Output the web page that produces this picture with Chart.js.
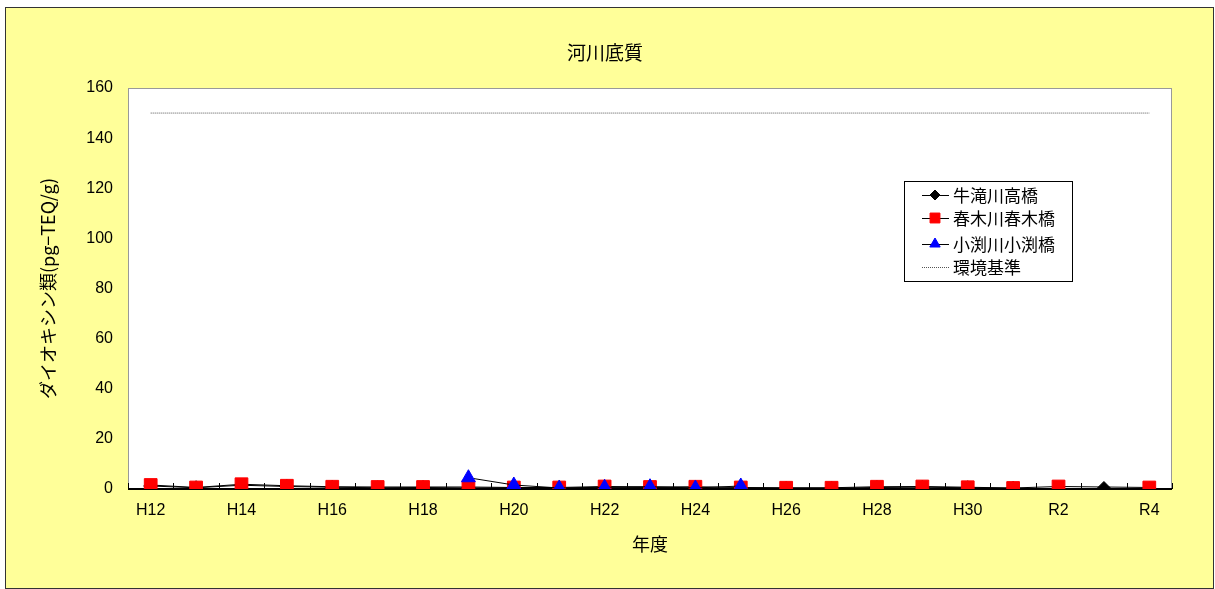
<!DOCTYPE html>
<html>
<head>
<meta charset="utf-8">
<script src="https://cdn.jsdelivr.net/npm/chart.js@4.4.1/dist/chart.umd.min.js"></script>
<style>
  body { margin: 0; background: #fff; }
  #wrap {
    position: absolute; left: 5px; top: 7px;
    width: 1209px; height: 582px;
    box-sizing: border-box; border: 1px solid #333;
    background: #ffff99;
  }
  #chart { display: block; }
</style>
</head>
<body>
<div id="wrap"><canvas id="chart" width="1207" height="580"></canvas></div>
<script>
// data (pg-TEQ/g)
const years = ['H12', 'H13', 'H14', 'H15', 'H16', 'H17', 'H18', 'H19', 'H20', 'H21',
    'H22', 'H23', 'H24', 'H25', 'H26', 'H27', 'H28', 'H29', 'H30', 'R1', 'R2', 'R3', 'R4'];
const ushitaki = [1.2, 0.5, 1.5, 1.0, 0.7, 0.5, 0.6, 0.4, 0.5, 0.3, 0.5, 0.6,
    0.4, 0.4, 0.3, 0.3, 0.6, 0.7, 0.5, 0.3, 0.1, 0.2, 0.1];
const harukigi = [1.6, 0.6, 1.9, 1.3, 0.9, 0.8, 0.8, 0.8, 0.6, 0.6, 1.0, 0.8,
    0.9, 0.6, 0.5, 0.5, 0.9, 1.0, 0.7, 0.4, 1.0, null, 0.6];
const kobuchi = [null, null, null, null, null, null, null, 4.5, 1.6, 0.4, 0.7, 0.9,
    0.4, 1.2, null, null, null, null, null, null, null, null, null];
const standard = years.map(() => 150);
const yTicks = [0, 20, 40, 60, 80, 100, 120, 140, 160];
const chartTitle = '河川底質';

const FONT = "'Liberation Sans', 'Noto Sans CJK JP', sans-serif";
const JFONT = "'Noto Sans CJK JP', 'Liberation Sans', sans-serif";

const legendItems = [
    { label: '牛滝川高橋', style: 'rectRot', color: '#000', r: 5 },
    { label: '春木川春木橋', style: 'rect', color: '#ff0000', r: 7 },
    { label: '小渕川小渕橋', style: 'triangle', color: '#0000ff', r: 6 },
    { label: '環境基準', style: null, color: '#555' }
];

// white plot area, frame, inward tick marks, dark bottom axis
const framePlugin = {
    id: 'frame',
    beforeDraw(chart) {
        const { ctx, chartArea: a } = chart;
        ctx.save();
        ctx.fillStyle = '#fff';
        ctx.fillRect(a.left, a.top, a.right - a.left, a.bottom - a.top);
        // title, centred over the whole panel
        ctx.fillStyle = '#000';
        ctx.font = '19px ' + JFONT;
        ctx.textAlign = 'center';
        ctx.textBaseline = 'middle';
        ctx.fillText(chartTitle, 599, 45);
        ctx.restore();
    },
    beforeDatasetsDraw(chart) {
        const { ctx, chartArea: a, scales } = chart;
        ctx.save();
        ctx.strokeStyle = '#999';
        ctx.lineWidth = 1;
        ctx.strokeRect(a.left + 0.5, a.top + 0.5, a.right - a.left - 1, a.bottom - a.top);
        const x = scales.x;
        const half = (x.getPixelForValue(1) - x.getPixelForValue(0)) / 2;
        ctx.strokeStyle = '#000';
        ctx.beginPath();
        for (let i = 0; i <= years.length; i++) {
            const px = Math.round(x.getPixelForValue(i) - half) + 0.5;
            ctx.moveTo(px, a.bottom);
            ctx.lineTo(px, a.bottom - 6);
        }
        ctx.stroke();
        ctx.lineWidth = 2;
        ctx.beginPath();
        ctx.moveTo(a.left, a.bottom);
        ctx.lineTo(a.right, a.bottom);
        ctx.stroke();
        ctx.restore();
    }
};

const legendPlugin = {
    id: 'boxLegend',
    afterDraw(chart) {
        const ctx = chart.ctx;
        const bx = 898, by = 173, bw = 168, bh = 100;
        const rows = [187, 210, 236, 259];
        ctx.save();
        ctx.fillStyle = '#fff';
        ctx.fillRect(bx, by, bw, bh);
        ctx.strokeStyle = '#000';
        ctx.lineWidth = 1;
        ctx.strokeRect(bx + 0.5, by + 0.5, bw, bh);
        legendItems.forEach((it, i) => {
            const y = rows[i];
            ctx.strokeStyle = it.style ? '#000' : '#555';
            ctx.lineWidth = 1;
            ctx.setLineDash(it.style ? [] : [1, 1]);
            ctx.beginPath();
            ctx.moveTo(916, y + 0.5);
            ctx.lineTo(943, y + 0.5);
            ctx.stroke();
            ctx.setLineDash([]);
            if (it.style) {
                ctx.fillStyle = it.color;
                ctx.strokeStyle = it.color;
                Chart.helpers.drawPoint(ctx, { pointStyle: it.style, radius: it.r, rotation: 0, borderWidth: 1 }, 929, y);
            }
            ctx.fillStyle = '#000';
            ctx.font = '17px ' + JFONT;
            ctx.textBaseline = 'middle';
            ctx.fillText(it.label, 947, y + 1);
        });
        ctx.restore();
    }
};

new Chart(document.getElementById('chart'), {
    type: 'line',
    data: {
        labels: years,
        datasets: [
            {
                label: '牛滝川高橋', data: ushitaki, order: 3,
                borderColor: '#000', borderWidth: 1,
                pointStyle: 'rectRot', pointRadius: 7,
                pointBackgroundColor: '#000', pointBorderColor: '#000',
                spanGaps: false
            },
            {
                label: '春木川春木橋', data: harukigi, order: 2,
                borderColor: '#000', borderWidth: 1,
                pointStyle: 'rect', pointRadius: 9,
                pointBackgroundColor: '#ff0000', pointBorderColor: '#ff0000',
                spanGaps: true
            },
            {
                label: '小渕川小渕橋', data: kobuchi, order: 1,
                borderColor: '#000', borderWidth: 1,
                pointStyle: 'triangle', pointRadius: 8,
                pointBackgroundColor: '#0000ff', pointBorderColor: '#0000ff'
            },
            {
                label: '環境基準', data: standard, order: 4,
                borderColor: '#555', borderWidth: 1, borderDash: [1, 1],
                pointRadius: 0
            }
        ]
    },
    options: {
        responsive: false,
        animation: false,
        layout: { padding: { left: 0, right: 41, top: 80, bottom: 0 } },
        plugins: {
            legend: { display: false },
            tooltip: { enabled: false },
            title: { display: false }
        },
        scales: {
            x: {
                type: 'category',
                offset: true,
                grid: { display: false, drawTicks: false },
                border: { display: false },
                ticks: {
                    autoSkip: false,
                    maxRotation: 0,
                    padding: 12,
                    color: '#000',
                    font: { family: FONT, size: 16 },
                    callback: (v, i) => (i % 2 === 0 ? years[i] : '')
                },
                title: {
                    display: true, text: '年度', color: '#000',
                    font: { family: JFONT, size: 18 },
                    padding: { top: 0, bottom: 33 }
                },
                afterFit(scale) { scale.height = 99; }
            },
            y: {
                min: 0, max: 160,
                grid: { display: false, drawTicks: false },
                border: { display: false },
                afterBuildTicks(scale) { scale.ticks = yTicks.map(v => ({ value: v })); },
                ticks: {
                    padding: 15,
                    color: '#000',
                    font: { family: FONT, size: 16 }
                },
                title: {
                    display: true, text: 'ダイオキシン類(pg−TEQ/g)', color: '#000',
                    font: { family: JFONT, size: 18 },
                    padding: { top: 31, bottom: 0 }
                },
                afterFit(scale) { scale.width = 122; }
            }
        }
    },
    plugins: [framePlugin, legendPlugin]
});
</script>
</body>
</html>
